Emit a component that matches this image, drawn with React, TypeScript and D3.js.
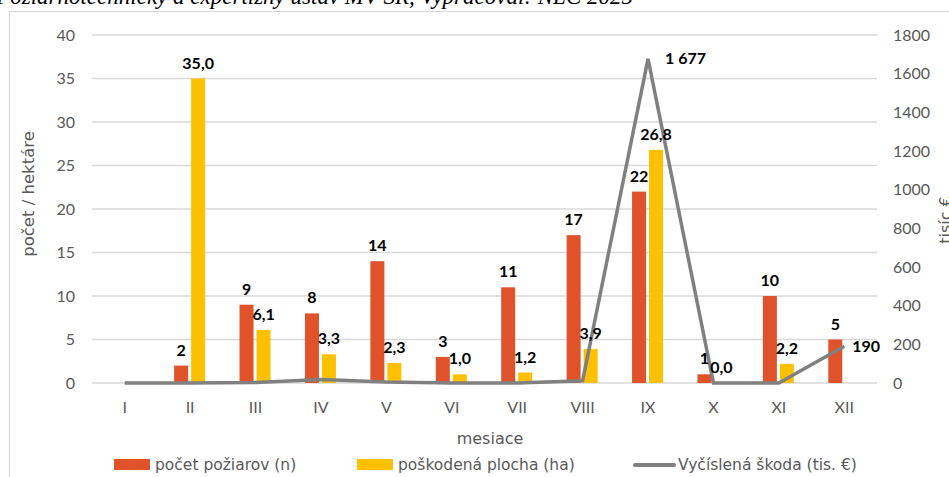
import React from "react";
import * as d3 from "d3";

const months = ["I", "II", "III", "IV", "V", "VI", "VII", "VIII", "IX", "X", "XI", "XII"];
const fires: (number | null)[] = [null, 2, 9, 8, 14, 3, 11, 17, 22, 1, 10, 5];
const area: (number | null)[] = [null, 35.0, 6.1, 3.3, 2.3, 1.0, 1.2, 3.9, 26.8, 0.0, 2.2, null];
const damage: number[] = [0, 0, 2, 18, 5, 0, 0, 12, 1677, 0, 0, 190];
const damageLabeled: boolean[] = [false, false, false, false, false, false, false, false, true, false, false, true];
const leftTicks = [0, 5, 10, 15, 20, 25, 30, 35, 40];
const rightTicks = [0, 200, 400, 600, 800, 1000, 1200, 1400, 1600, 1800];

const W = 949;
const H = 477;
const FONT = "Lato, 'Open Sans', sans-serif";
const WIDE = "'DejaVu Sans', Lato, sans-serif";
const ORANGE = "#E0532A";
const YELLOW = "#FFC000";
const GRAY = "#808080";
const TXT = "#595959";

export default function App() {
  const x = d3.scaleBand<string>().domain(months).range([92, 877]).padding(0);
  const yL = d3.scaleLinear().domain([0, 40]).range([383, 35]);
  const yR = d3.scaleLinear().domain([0, 1800]).range([383, 35]);
  const bw = 14;
  const cx = (m: string) => (x(m) as number) + x.bandwidth() / 2;
  const line = d3
    .line<number>()
    .x((_, i) => cx(months[i]))
    .y((d) => yR(d));
  const fmt = (v: number) => (v >= 1000 ? d3.format(",")(v).replace(",", " ") : String(v));
  const fmt1 = (v: number) => v.toFixed(1).replace(".", ",");

  return (
    <svg width={W} height={H} style={{ position: "absolute", left: 0, top: 0, background: "#fff" }} fontFamily={FONT}>
      <text x={633} y={4} textAnchor="end" fontFamily="'Liberation Serif', 'Times New Roman', serif" fontStyle="italic" fontSize={23} fill="#000">
        Zdroj: Požiarnotechnický a expertízny ústav MV SR, Vypracoval: NLC 2025
      </text>
      <rect x={9.5} y={11.5} width={1000} height={600} fill="#fff" stroke="#d9d9d9" strokeWidth={1.2} />
      {leftTicks.map((t) => (
        <line key={"g" + t} x1={92} x2={877} y1={yL(t)} y2={yL(t)} stroke="#d9d9d9" strokeWidth={1.3} />
      ))}
      {leftTicks.map((t) => (
        <text key={"l" + t} x={75} y={yL(t)} dy="0.35em" textAnchor="end" fontSize={16} fill={TXT}>
          {t}
        </text>
      ))}
      {rightTicks.map((t) => (
        <text key={"r" + t} x={893} y={yR(t)} dy="0.35em" textAnchor="start" fontSize={16} fill={TXT}>
          {t}
        </text>
      ))}
      {months.map((m) => (
        <text key={"m" + m} x={cx(m)} y={413} textAnchor="middle" fontSize={16} fill={TXT}>
          {m}
        </text>
      ))}
      <text x={490} y={444} textAnchor="middle" fontSize={16} fontFamily={WIDE} fill={TXT}>
        mesiace
      </text>
      <text transform={`translate(34,194) rotate(-90)`} textAnchor="middle" fontSize={16.5} fontFamily={WIDE} fill={TXT}>
        počet / hektáre
      </text>
      <text transform={`translate(951,220) rotate(-90)`} textAnchor="middle" fontSize={16} fontFamily={WIDE} fill={TXT}>
        tisíc €
      </text>
      {months.map((m, i) =>
        fires[i] == null ? null : (
          <rect key={"f" + m} x={cx(m) - 16} y={yL(fires[i] as number)} width={bw} height={yL(0) - yL(fires[i] as number)} fill={ORANGE} />
        )
      )}
      {months.map((m, i) =>
        area[i] == null ? null : (
          <rect key={"a" + m} x={cx(m) + 1} y={yL(area[i] as number)} width={bw} height={yL(0) - yL(area[i] as number)} fill={YELLOW} />
        )
      )}
      <path d={line(damage) || ""} fill="none" stroke={GRAY} strokeWidth={3.5} strokeLinejoin="miter" />
      {months.map((m, i) =>
        fires[i] == null ? null : (
          <text key={"fl" + m} x={cx(m) - 9} y={yL(fires[i] as number) - 10} textAnchor="middle" fontSize={16} fontWeight="bold" fill="#000">
            {fires[i]}
          </text>
        )
      )}
      {months.map((m, i) =>
        area[i] == null ? null : (
          <text key={"al" + m} x={cx(m) + 8} y={yL(area[i] as number) - 10} textAnchor="middle" fontSize={16} fontWeight="bold" fill="#000">
            {fmt1(area[i] as number)}
          </text>
        )
      )}
      {months.map((m, i) =>
        !damageLabeled[i] ? null : (
          <text key={"dl" + m} x={cx(m) + (damage[i] >= 1000 ? 17 : 8)} y={yR(damage[i])} dy="0.35em" textAnchor="start" fontSize={16} fontWeight="bold" fill="#000">
            {fmt(damage[i])}
          </text>
        )
      )}
      <g fontSize={15.5} fontFamily={WIDE} fill={TXT}>
        <rect x={114} y={459} width={36} height={11} fill={ORANGE} />
        <text x={155} y={465} dy="0.35em">počet požiarov (n)</text>
        <rect x={357} y={459} width={36} height={11} fill={YELLOW} />
        <text x={398} y={465} dy="0.35em">poškodená plocha (ha)</text>
        <line x1={635} x2={674} y1={465} y2={465} stroke={GRAY} strokeWidth={4} strokeLinecap="round" />
        <text x={678} y={465} dy="0.35em">Vyčíslená škoda (tis. €)</text>
      </g>
    </svg>
  );
}
